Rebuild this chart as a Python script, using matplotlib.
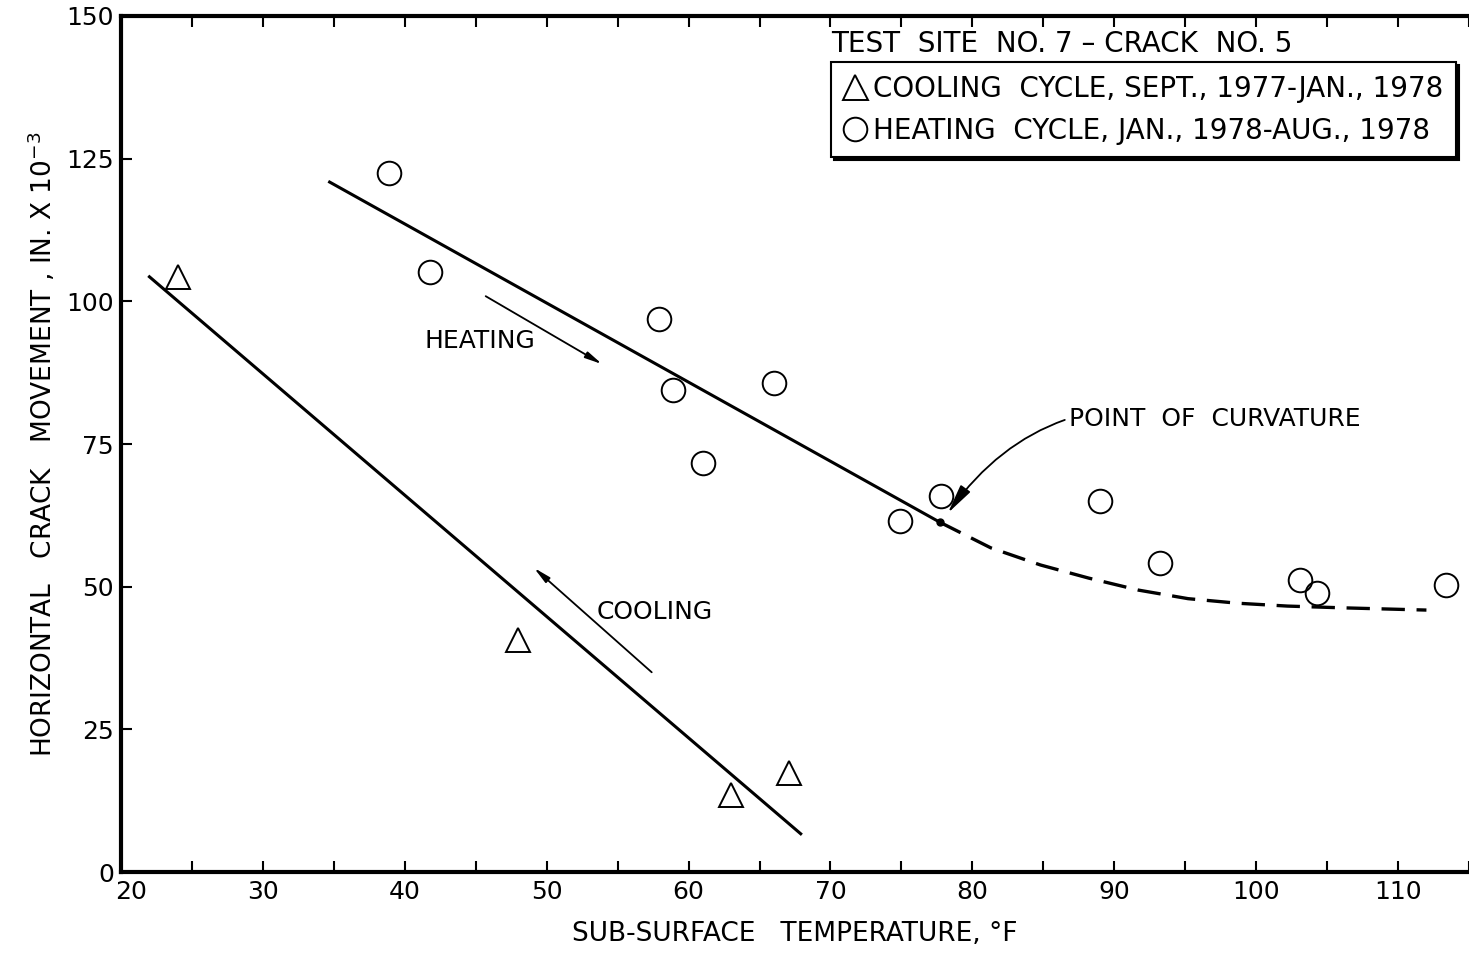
import matplotlib
matplotlib.use('Agg')
import matplotlib.pyplot as plt
from matplotlib.lines import Line2D
from matplotlib.transforms import ScaledTranslation

# cooling cycle (triangles) and heating cycle (circles)
cool_x = [24.0, 48.0, 63.0, 67.1]
cool_y = [104.3, 40.6, 13.5, 17.3]
heat_x = [38.9, 41.8, 57.9, 58.9, 66.0, 61.0, 74.9, 77.8, 89.0, 93.2, 103.1, 104.3, 113.4]
heat_y = [122.5, 105.1, 96.9, 84.5, 85.7, 71.7, 61.5, 65.9, 65.0, 54.1, 51.2, 48.9, 50.3]

# fitted lines
cool_fit_x = [22.0, 67.9]
cool_fit_y = [104.3, 6.7]
heat_fit_x = [34.7, 77.7]
heat_fit_y = [120.9, 61.3]
curve_x = [77.7, 81.3, 84.8, 88.2, 91.7, 95.2, 98.7, 102.2, 106.0, 112.0]
curve_y = [61.3, 56.8, 53.8, 51.5, 49.4, 47.9, 47.1, 46.6, 46.3, 45.9]

xticks = [20, 30, 40, 50, 60, 70, 80, 90, 100, 110]
yticks = [0, 25, 50, 75, 100, 125, 150]

plt.rcParams['font.family'] = ['DejaVu Sans']

fig = plt.figure(figsize=(14.69, 9.57), dpi=100)
ax = fig.add_axes([0.0824, 0.0888, 0.9176, 0.8945])

ax.plot(cool_fit_x, cool_fit_y, 'k-', lw=2.2)
ax.plot(heat_fit_x, heat_fit_y, 'k-', lw=2.2)
ax.plot(curve_x, curve_y, 'k-', lw=2.4, dashes=(7, 3.5))
ax.plot([heat_fit_x[1]], [heat_fit_y[1]], 'ko', ms=5)

ax.plot(cool_x, cool_y, ls='none', marker='^', ms=17, mfc='white', mec='k', mew=1.4)
ax.plot(heat_x, heat_y, ls='none', marker='o', ms=17, mfc='none', mec='k', mew=1.4, clip_on=False)

# arrows
astyle = '-|>,head_length=1.0,head_width=0.2'
ax.annotate('', xy=(53.9, 89.0), xytext=(45.7, 100.9),
            arrowprops=dict(arrowstyle=astyle, color='k', lw=1.3, shrinkA=0, shrinkB=0))
ax.annotate('', xy=(49.1, 53.3), xytext=(57.4, 35.0),
            arrowprops=dict(arrowstyle=astyle, color='k', lw=1.3, shrinkA=0, shrinkB=0))
ax.text(45.3, 93.0, 'HEATING', fontsize=18, ha='center', va='center')
ax.text(57.6, 45.5, 'COOLING', fontsize=18, ha='center', va='center')
ax.annotate('POINT  OF  CURVATURE', xy=(78.1, 62.3), xytext=(86.8, 79.4),
            fontsize=18, ha='left', va='center',
            arrowprops=dict(arrowstyle=astyle, color='k', lw=1.3,
                            connectionstyle='arc3,rad=0.35', shrinkA=1, shrinkB=3))

ax.set_xlim(20, 114)
ax.set_ylim(0, 150)
ax.set_xticks(xticks)
ax.set_xticks([x + 5 for x in xticks], minor=True)
ax.set_yticks(yticks)
ax.tick_params(axis='x', which='both', direction='in', top=True, length=8, width=1.5,
               labelsize=18, pad=6)
ax.tick_params(axis='y', which='both', direction='in', length=8, width=1.5,
               labelsize=18, pad=5)
for s in ['left', 'bottom', 'top']:
    ax.spines[s].set_linewidth(3)
ax.spines['right'].set_visible(False)

# nudge the "20" so it clears the "0"
lab20 = ax.get_xticklabels()[0]
lab20.set_transform(lab20.get_transform() + ScaledTranslation(0.10, 0, fig.dpi_scale_trans))

ax.set_xlabel('SUB-SURFACE   TEMPERATURE, °F', fontsize=19, labelpad=12)
ax.set_ylabel('HORIZONTAL   CRACK   MOVEMENT , IN. X 10$^{-3}$', fontsize=19, labelpad=6)

# legend
h1 = Line2D([], [], ls='none', marker='^', ms=18, mfc='white', mec='k', mew=1.4)
h2 = Line2D([], [], ls='none', marker='o', ms=17, mfc='white', mec='k', mew=1.4)
leg = ax.legend([h1, h2], ['COOLING  CYCLE, SEPT., 1977-JAN., 1978',
                           'HEATING  CYCLE, JAN., 1978-AUG., 1978'],
                loc='upper left', bbox_to_anchor=(0.527, 0.946), borderaxespad=0,
                fontsize=20, frameon=True, fancybox=False, edgecolor='k', framealpha=1,
                shadow={'facecolor': 'k', 'edgecolor': 'k', 'alpha': 1},
                handlelength=0.8, handletextpad=0.25, borderpad=0.45, labelspacing=0.5)
leg.get_frame().set_linewidth(1.5)
ax.text(0.527, 0.951, 'TEST  SITE  NO. 7 – CRACK  NO. 5', transform=ax.transAxes,
        fontsize=20, ha='left', va='bottom')

fig.savefig('out.png', dpi=100)
